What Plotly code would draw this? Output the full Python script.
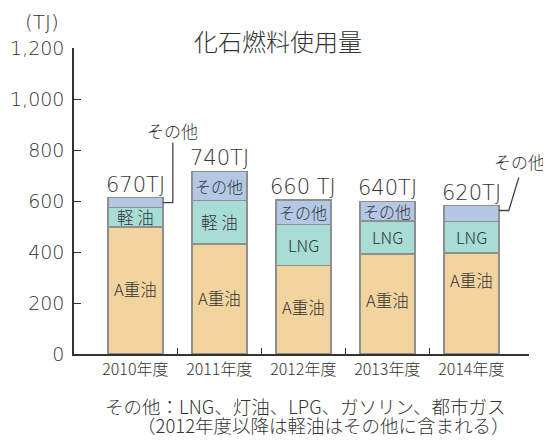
import plotly.graph_objects as go

years = ["2010年度", "2011年度", "2012年度", "2013年度", "2014年度"]
a_heavy = [498, 432, 348, 393, 397]
middle = [76, 170, 160, 129, 123]
other = [39, 114, 95, 77, 62]
middle_labels = ["軽 油", "軽 油", "LNG", "LNG", "LNG"]
other_inside = ["", "その他", "その他", "その他", ""]
total_labels = ["670TJ", "740TJ", "660 TJ", "640TJ", "620TJ"]
y_ticks = [0, 200, 400, 600, 800, 1000, 1200]

FONT = "Noto Sans CJK JP"
NUMFONT = "DejaVu Sans, Noto Sans CJK JP"
WT = 300
TXT = "#333333"
EDGE = "#8f8f8f"
C_A = "#f2d49f"
C_M = "#a8ddd6"
C_O = "#b4c8e6"
BW = 0.655

xi = list(range(len(years)))
fig = go.Figure()
for vals, col in [(a_heavy, C_A), (middle, C_M), (other, C_O)]:
    fig.add_trace(go.Bar(x=xi, y=vals, width=BW, marker=dict(color=col, line=dict(color=EDGE, width=1.5)),
                         hoverinfo="skip", showlegend=False))
fig.add_trace(go.Scatter(x=[0], y=[0], xaxis="x2", mode="markers", marker=dict(opacity=0),
                         showlegend=False, hoverinfo="skip"))

def A(**kw):
    d = dict(showarrow=False, xanchor="center", yanchor="middle")
    d.update(kw)
    return d

def F(size, fam=FONT):
    return dict(size=size, color=TXT, family=fam, weight=WT)

ann = []
a_shift = [2, 1, 3, 4, 23]
for i in xi:
    tot = a_heavy[i] + middle[i] + other[i]
    ann.append(A(x=i, y=a_heavy[i] / 2, text="A重油", yshift=a_shift[i], font=F(16.5)))
    ann.append(A(x=i, y=a_heavy[i] + middle[i] / 2, text=middle_labels[i], font=F(16.5)))
    if other_inside[i]:
        ann.append(A(x=i, y=a_heavy[i] + middle[i] + other[i] / 2, text=other_inside[i], font=F(16)))
    ann.append(A(x=i, y=tot, text=total_labels[i], yshift=13, font=F(21, NUMFONT)))

shapes = []
callouts = [(0, "M0,0 L10,0 L10,60", 10, 72), (4, "M0,3 L10,3 L20,36", 21, 52)]
for i, path, tx, ty in callouts:
    ymid = a_heavy[i] + middle[i] + other[i] / 2
    shapes.append(dict(type="path", xref="x", yref="y", xsizemode="pixel", ysizemode="pixel",
                       xanchor=i + BW / 2, yanchor=ymid, path=path, line=dict(color="#444444", width=1.3)))
    ann.append(A(x=i + BW / 2, y=ymid, text="その他", xshift=tx, yshift=ty, font=F(17)))

# page has an 8px body margin; the figure is sized to fit the 551x442 window
OFF = 8
W, H = 551 - OFF, 442 - OFF
L, R, T, B = 74 - OFF, 22, 48 - OFF, 88
PW, PH = W - L - R, H - T - B
def px(xp): return (xp - OFF - L) / PW
def py(yp): return (H - B - (yp - OFF)) / PH

ann.append(A(xref="paper", yref="paper", x=px(278), y=py(40), text="化石燃料使用量", font=F(24)))
ann.append(A(xref="paper", yref="paper", x=px(42), y=py(22), text="(TJ)", font=F(20, NUMFONT)))
ann.append(A(xref="paper", yref="paper", x=px(508), y=py(406), xanchor="right",
             text="その他：LNG、灯油、LPG、ガソリン、都市ガス", font=F(18.5)))
ann.append(A(xref="paper", yref="paper", x=px(512), y=py(425), xanchor="right",
             text="（2012年度以降は軽油はその他に含まれる）", font=F(18.5)))

x0, x1 = -0.73, 4.687
fig.update_layout(
    width=W, height=H, margin=dict(l=L, r=R, t=T, b=B, autoexpand=False),
    paper_bgcolor="white", plot_bgcolor="white", barmode="stack",
    font=dict(family=FONT, color=TXT),
    xaxis=dict(range=[x0, x1], tickvals=xi, ticktext=years, ticks="", showgrid=False, zeroline=False,
               automargin=False, showline=True, linecolor="#333333", linewidth=1.5, tickfont=F(16)),
    xaxis2=dict(range=[x0, x1], overlaying="x", anchor="y", side="bottom",
                tickvals=[0.5, 1.5, 2.5, 3.5, x1 - 0.002], automargin=False,
                ticks="inside", ticklen=6, tickwidth=1.3, tickcolor="#333333", showticklabels=False,
                showgrid=False, zeroline=False, showline=False),
    yaxis=dict(range=[0, 1200], tickvals=y_ticks, tickformat=",d", ticks="inside", ticklen=7, tickwidth=1.3,
               tickcolor="#333333", showgrid=False, zeroline=False, showline=True, linecolor="#333333",
               automargin=False, linewidth=1.5, tickfont=F(19, NUMFONT), ticklabelstandoff=4),
    annotations=ann, shapes=shapes,
)
fig.write_html("out.html")
